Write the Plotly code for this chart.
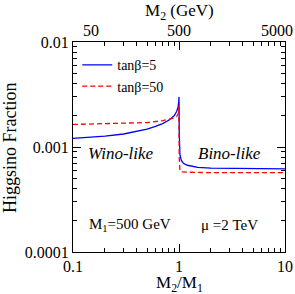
import math
import plotly.graph_objects as go

# ---- data ----
ratio_tb5 = [0.1, 0.15, 0.2, 0.3, 0.4, 0.5, 0.6, 0.7, 0.8, 0.9, 0.95, 0.98, 0.995, 1.0,
             1.005, 1.01, 1.02, 1.05, 1.1, 1.2, 1.5, 2.0, 5.0, 10.0]
higgsino_tb5 = [0.00121, 0.00124, 0.00127, 0.00133, 0.00140, 0.00148, 0.00157, 0.00167,
                0.00180, 0.00198, 0.00218, 0.0024, 0.0027, 0.0030,
                0.0014, 0.00105, 0.00085, 0.00075, 0.00070, 0.00067, 0.00064, 0.00063,
                0.000625, 0.00062]

ratio_tb50 = [0.1, 0.3, 0.5, 0.7, 0.85, 0.95, 0.99, 0.999, 1.0, 1.005, 1.02, 1.05, 1.2,
              2.0, 10.0]
higgsino_tb50 = [0.00164, 0.00167, 0.00171, 0.00178, 0.00186, 0.00195, 0.0021, 0.0025,
                 0.0012, 0.0008, 0.00060, 0.00058, 0.000575, 0.00057, 0.00057]

series_names = ["tanβ=5", "tanβ=50"]
x_major = [0.1, 1, 10]
x_major_text = ["0.1", "1", "10"]
x_minor = [0.2, 0.3, 0.4, 0.5, 0.6, 0.7, 0.8, 0.9, 2, 3, 4, 5, 6, 7, 8, 9]
y_major = [1e-4, 1e-3, 1e-2]
y_major_text = ["0.0001", "0.001", "0.01"]
y_minor = [k * 1e-4 for k in range(2, 10)] + [k * 1e-3 for k in range(2, 10)]
m2_labels = [50, 500, 5000]

FONT = "Liberation Serif"

fig = go.Figure()
fig.add_trace(go.Scatter(x=ratio_tb5, y=higgsino_tb5, mode="lines", name=series_names[0],
                         line=dict(color="#0000ff", width=1.3)))
fig.add_trace(go.Scatter(x=ratio_tb50, y=higgsino_tb50, mode="lines", name=series_names[1],
                         line=dict(color="#ff0000", width=1.3, dash="5px,3px")))

axis_common = dict(showline=True, linecolor="black", linewidth=1.2, ticks="inside",
                   tickcolor="black", tickwidth=1, ticklen=8, mirror="ticks",
                   showgrid=False, zeroline=False, automargin=False,
                   tickfont=dict(family=FONT, size=16, color="black"))

fig.update_layout(
    width=295, height=294,
    margin=dict(l=73, r=10, t=42, b=42, autoexpand=False),
    paper_bgcolor="white", plot_bgcolor="white",
    font=dict(family=FONT, color="black"),
    xaxis=dict(type="log", range=[-1, 1], tickvals=x_major, ticktext=x_major_text,
               minor=dict(tickvals=x_minor, ticks="inside", ticklen=4, tickcolor="black"),
               **axis_common),
    yaxis=dict(type="log", range=[-4, -2], tickvals=y_major, ticktext=y_major_text,
               minor=dict(tickvals=y_minor, ticks="inside", ticklen=4, tickcolor="black"),
               **axis_common),
    legend=dict(x=0.02, y=0.965, xanchor="left", yanchor="top", bgcolor="rgba(0,0,0,0)",
                font=dict(family=FONT, size=14, color="black"), tracegroupgap=0,
                itemwidth=30),
    showlegend=True,
)

ann = []
for v in m2_labels:
    frac = (math.log10(v / 500.0) + 1) / 2.0
    if v == 50:
        xa, xs = "left", 8
    elif v == 5000:
        xa, xs = "right", 10
    else:
        xa, xs = "center", 0
    ann.append(dict(x=frac, y=1, xref="paper", yref="paper", text=str(v), showarrow=False,
                    xanchor=xa, yanchor="bottom", xshift=xs, yshift=1,
                    font=dict(family=FONT, size=16)))
ann.append(dict(x=0.5, y=1, xref="paper", yref="paper", text="M<sub>2</sub> (GeV)",
                showarrow=False, xanchor="center", yanchor="middle", yshift=30,
                font=dict(family=FONT, size=17)))
ann.append(dict(x=0.5, y=0, xref="paper", yref="paper", text="M<sub>2</sub>/M<sub>1</sub>",
                showarrow=False, xanchor="center", yanchor="middle", yshift=-32,
                font=dict(family=FONT, size=17)))
ann.append(dict(x=0, y=0.495, xref="paper", yref="paper", text="Higgsino Fraction",
                showarrow=False, xanchor="center", yanchor="middle", xshift=-63,
                textangle=-90, font=dict(family=FONT, size=18)))
ann.append(dict(x=0.226, y=0.471, xref="paper", yref="paper", text="<i>Wino-like</i>",
                showarrow=False, xanchor="center", yanchor="middle",
                font=dict(family=FONT, size=17)))
ann.append(dict(x=0.736, y=0.471, xref="paper", yref="paper", text="<i>Bino-like</i>",
                showarrow=False, xanchor="center", yanchor="middle",
                font=dict(family=FONT, size=17)))
ann.append(dict(x=0.269, y=0.129, xref="paper", yref="paper", text="M<sub>1</sub>=500 GeV",
                showarrow=False, xanchor="center", yanchor="middle",
                font=dict(family=FONT, size=15)))
ann.append(dict(x=0.74, y=0.129, xref="paper", yref="paper", text="μ =2 TeV",
                showarrow=False, xanchor="center", yanchor="middle",
                font=dict(family=FONT, size=15)))
fig.update_layout(annotations=ann)

fig.write_html("out.html", config={"displayModeBar": False},
               post_script="document.body.style.margin='0';document.body.style.padding='0';")
